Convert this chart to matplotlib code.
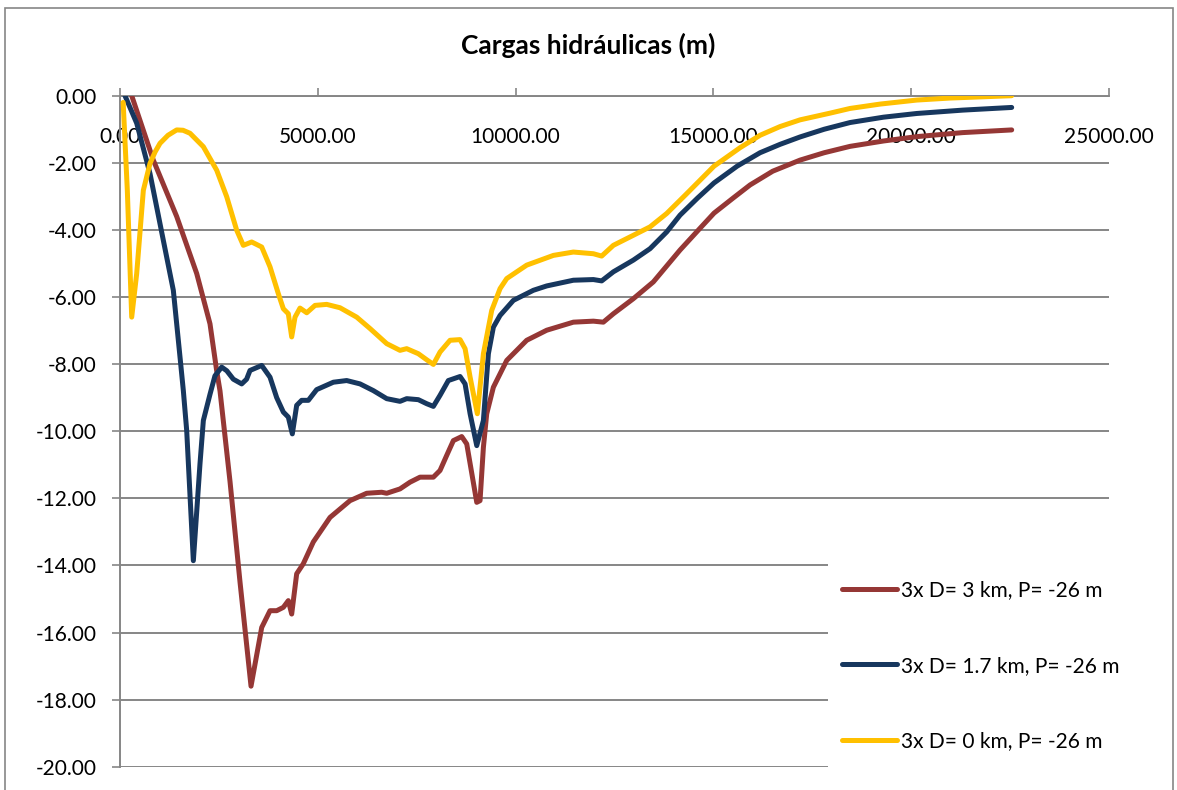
import matplotlib.pyplot as plt
from matplotlib.patches import Rectangle
from matplotlib.ticker import FormatStrFormatter, MultipleLocator

# Fonte parecida com a do Excel
plt.rcParams['font.family'] = ['Lato', 'DejaVu Sans']

# Dados - distância (m) e carga hidráulica (m) para cada cenário
x_3km = [0, 296, 842, 1433, 1939, 2275, 2444, 2528, 2781, 3034, 3312, 3582, 3792, 3961,
         4129, 4255, 4340, 4466, 4634, 4887, 5309, 5814, 6236, 6615, 6742, 7078, 7331,
         7584, 7921, 8090, 8259, 8427, 8638, 8765, 9018, 9101, 9186, 9270, 9438, 9776,
         10281, 10787, 11460, 11966, 12218, 12471, 12977, 13482, 14157, 14663, 15016,
         15500, 15927, 16500, 17190, 17800, 18454, 19300, 20140, 21300, 22540]
y_3km = [0.9, 0.0, -1.92, -3.6, -5.3, -6.8, -8.2, -8.8, -11.5, -14.5, -17.6, -15.85,
         -15.35, -15.35, -15.25, -15.05, -15.45, -14.25, -13.95, -13.3, -12.57, -12.07,
         -11.85, -11.82, -11.85, -11.72, -11.52, -11.37, -11.37, -11.17, -10.72, -10.28,
         -10.16, -10.38, -12.12, -12.07, -10.48, -9.48, -8.69, -7.89, -7.29, -6.99,
         -6.75, -6.72, -6.75, -6.5, -6.05, -5.55, -4.6, -3.95, -3.5, -3.05, -2.66,
         -2.25, -1.92, -1.7, -1.51, -1.35, -1.22, -1.1, -1.02]

x_17km = [0, 126, 422, 758, 1095, 1348, 1517, 1601, 1686, 1854, 2022, 2107, 2275, 2400,
          2570, 2700, 2865, 3076, 3200, 3286, 3582, 3792, 3961, 4129, 4255, 4356, 4466,
          4592, 4761, 4972, 5393, 5730, 6067, 6404, 6742, 7078, 7247, 7541, 7752, 7921,
          8090, 8300, 8596, 8723, 8850, 9018, 9186, 9312, 9438, 9607, 9944, 10449, 10787,
          11460, 11966, 12176, 12471, 12977, 13398, 13820, 14157, 14600, 15016, 15600,
          16179, 16685, 17190, 17800, 18454, 19300, 20140, 21300, 22540]
y_17km = [0.3, 0.0, -0.82, -2.32, -4.31, -5.8, -7.79, -8.79, -9.98, -13.86, -10.97,
          -9.68, -8.9, -8.35, -8.09, -8.2, -8.45, -8.59, -8.45, -8.19, -8.04, -8.39,
          -9.0, -9.43, -9.58, -10.08, -9.23, -9.08, -9.08, -8.76, -8.54, -8.49, -8.59,
          -8.79, -9.03, -9.11, -9.03, -9.06, -9.18, -9.26, -8.93, -8.49, -8.37, -8.59,
          -9.48, -10.43, -9.68, -7.69, -6.9, -6.55, -6.1, -5.8, -5.67, -5.5, -5.48,
          -5.52, -5.25, -4.9, -4.56, -4.06, -3.56, -3.05, -2.6, -2.1, -1.7, -1.45,
          -1.23, -1.0, -0.8, -0.64, -0.53, -0.43, -0.35]

x_0km = [80, 185, 296, 422, 590, 758, 885, 1011, 1213, 1433, 1593, 1770, 2107, 2444,
         2697, 2950, 3117, 3329, 3582, 3792, 4002, 4129, 4255, 4340, 4424, 4550, 4720,
         4930, 5225, 5561, 5983, 6320, 6742, 7078, 7247, 7541, 7752, 7921, 8090, 8343,
         8596, 8723, 8850, 9033, 9186, 9396, 9607, 9776, 10281, 10955, 11460, 11966,
         12176, 12471, 12977, 13398, 13820, 14300, 15016, 15674, 16179, 16685, 17190,
         17949, 18454, 19213, 20140, 20982, 22540]
y_0km = [-0.2, -2.82, -6.6, -5.3, -2.82, -2.02, -1.68, -1.42, -1.18, -1.02, -1.03,
         -1.12, -1.52, -2.22, -3.01, -4.01, -4.46, -4.36, -4.51, -5.1, -5.9, -6.35,
         -6.5, -7.19, -6.6, -6.33, -6.47, -6.25, -6.22, -6.32, -6.6, -6.94, -7.39,
         -7.59, -7.54, -7.69, -7.87, -8.01, -7.64, -7.29, -7.27, -7.54, -8.39, -9.48,
         -7.69, -6.4, -5.75, -5.45, -5.05, -4.76, -4.66, -4.71, -4.78, -4.46, -4.16,
         -3.91, -3.51, -2.95, -2.1, -1.55, -1.18, -0.92, -0.72, -0.52, -0.38, -0.25,
         -0.13, -0.07, 0.0]

series = [
    (x_3km, y_3km, '3x D= 3 km, P= -26 m', '#953735'),
    (x_17km, y_17km, '3x D= 1.7 km, P= -26 m', '#17375E'),
    (x_0km, y_0km, '3x D= 0 km, P= -26 m', '#FFC000'),
]

cinza = '#868686'
W, H = 1177, 790

fig = plt.figure(figsize=(W / 100, H / 100), dpi=100)
ax = fig.add_axes([120 / W, 1 - 766.7 / H, 989 / W, 671 / H])

for xs, ys, nome, cor in series:
    ax.plot(xs, ys, color=cor, lw=3.6, label=nome,
            solid_capstyle='round', solid_joinstyle='round', zorder=3)

ax.set_xlim(0, 25000)
ax.set_ylim(-20, 0)
ax.xaxis.set_major_locator(MultipleLocator(5000))
ax.yaxis.set_major_locator(MultipleLocator(2))
ax.xaxis.set_major_formatter(FormatStrFormatter('%.2f'))
ax.yaxis.set_major_formatter(FormatStrFormatter('%.2f'))

# eixo x cruza em y=0 (em cima), rótulos logo abaixo da linha
ax.tick_params(axis='x', top=True, bottom=False, labeltop=True, labelbottom=False,
               direction='out', length=6, width=1.2, color=cinza, pad=-43,
               labelsize=15)
ax.tick_params(axis='y', direction='out', length=6, width=1.2, color=cinza, pad=11,
               labelsize=15)

for lado in ['right', 'bottom']:
    ax.spines[lado].set_visible(False)
for lado in ['top', 'left']:
    ax.spines[lado].set_color(cinza)
    ax.spines[lado].set_linewidth(1.4)

ax.set_axisbelow(True)
ax.grid(axis='y', color=cinza, lw=1.4)
ax.grid(axis='x', visible=False)

# fundo branco da legenda por cima das linhas de grade
ax.add_patch(Rectangle((0.716, -0.1), 0.4, 0.438, transform=ax.transAxes,
                       facecolor='white', edgecolor='none', zorder=1, clip_on=False))

ax.legend(loc='upper left', bbox_to_anchor=(842 / W, 1 - 580 / H),
          bbox_transform=fig.transFigure, frameon=False, fontsize=15,
          handlelength=2.64, handletextpad=0.2, labelspacing=2.67,
          borderpad=0, borderaxespad=0)

fig.text(0.5, 1 - 45 / H, 'Cargas hidráulicas (m)', ha='center', va='center',
         fontsize=19, fontweight='bold')

# borda da área do gráfico
fig.patches.append(Rectangle((5 / W, -0.1), (1173 - 5) / W, 1.1 - 8 / H,
                             transform=fig.transFigure, fill=False,
                             edgecolor=cinza, lw=1.2))

fig.savefig('out.png', dpi=100)
